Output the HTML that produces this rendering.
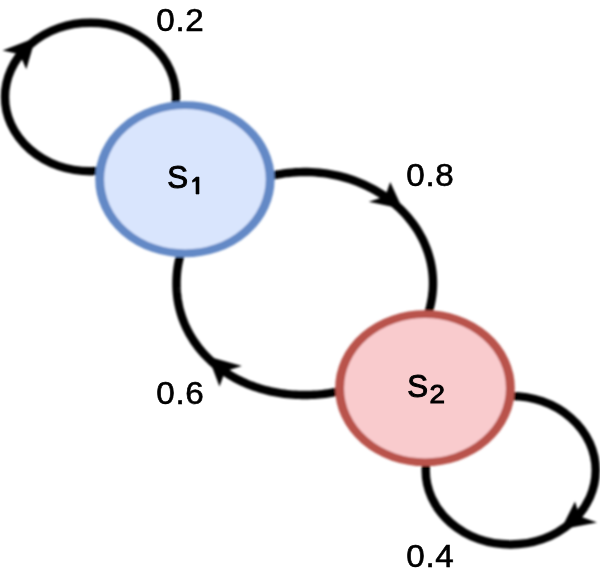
<!DOCTYPE html>
<html><head><meta charset="utf-8">
<style>
html,body{margin:0;padding:0;background:#fff;width:600px;height:574px;overflow:hidden}
svg{display:block}
text{font-family:"Liberation Sans",sans-serif;fill:#000}
</style></head>
<body>
<svg width="600" height="574" viewBox="0 0 600 574">
<defs>
<filter id="b" x="-5%" y="-5%" width="110%" height="110%"><feGaussianBlur stdDeviation="0.8"/></filter>
<filter id="soft" x="-10%" y="-10%" width="120%" height="120%"><feGaussianBlur stdDeviation="0.45"/></filter>
</defs>
<g filter="url(#b)">
<g fill="none" stroke="#000" stroke-width="8.4" transform="scale(1.0 1)">
<ellipse cx="90.500" cy="97" rx="85.500" ry="74.3"/>
<path d="M193.68,227.62 L195.69,224.71 L197.80,221.85 L200.02,219.04 L202.32,216.30 L204.73,213.62 L207.23,211.00 L209.82,208.45 L212.49,205.97 L215.26,203.56 L218.11,201.23 L221.03,198.97 L224.04,196.79 L227.12,194.69 L230.27,192.68 L233.50,190.75 L236.79,188.90 L240.14,187.15 L243.55,185.48 L247.02,183.91 L250.55,182.42 L254.12,181.03 L257.75,179.74 L261.41,178.54 L265.12,177.44 L268.86,176.44 L272.64,175.54 L276.45,174.74 L280.28,174.04 L284.13,173.45 L288.01,172.95 L291.90,172.56 L295.80,172.27 L299.71,172.09 L303.63,172.00 L307.55,172.03 L311.46,172.15 L315.37,172.38 L319.27,172.72 L323.15,173.15 L327.02,173.69 L330.87,174.33 L334.69,175.07 L338.48,175.92 L342.25,176.86 L345.97,177.90 L349.66,179.05 L353.31,180.28 L356.91,181.62 L360.47,183.05 L363.97,184.57 L367.42,186.18 L370.80,187.89 L374.13,189.68 L377.39,191.57 L380.59,193.53 L383.71,195.58 L386.76,197.72 L389.73,199.93 L392.62,202.22 L395.44,204.58 L398.16,207.02 L400.80,209.53 L403.35,212.11 L405.81,214.76 L408.18,217.47 L410.44,220.24 L412.61,223.07 L414.68,225.95 L416.65,228.89 L418.51,231.88 L420.26,234.92 L421.91,238.00 L423.45,241.13 L424.88,244.29 L426.19,247.49 L427.40,250.72 L428.48,253.99 L429.46,257.28 L430.31,260.59 L431.05,263.93 L431.67,267.29 L432.18,270.66 L432.56,274.04 L432.82,277.43 L432.97,280.82 L433.00,284.22 L432.90,287.62 L432.69,291.01 L432.35,294.40 L431.90,297.77 L431.33,301.13 L430.64,304.48 L429.84,307.80 L428.91,311.10 L427.88,314.38 L426.72,317.63 L425.46,320.84 L424.08,324.02 L422.58,327.17 L420.98,330.27 L419.27,333.32 L417.46,336.33 L415.54,339.29 L413.51,342.20 L411.39,345.06 L409.16,347.85 L406.84,350.59 L404.42,353.26 L401.91,355.87 L399.31,358.41 L396.62,360.88 L393.84,363.28 L390.98,365.60 L388.04,367.85 L385.02,370.01 L381.93,372.10 L378.77,374.10 L375.54,376.02 L372.24,377.85 L368.87,379.60"/>
<path d="M370.19,380.40 L367.77,381.57 L365.32,382.69 L362.83,383.77 L360.32,384.80 L357.77,385.78 L355.20,386.71 L352.60,387.60 L349.98,388.43 L347.33,389.22 L344.66,389.96 L341.96,390.65 L339.25,391.29 L336.51,391.88 L333.75,392.42 L330.97,392.91 L328.17,393.35 L325.35,393.73 L322.51,394.07 L319.66,394.35 L316.78,394.59 L313.88,394.77 L310.95,394.90 L307.97,394.97 L304.90,395.00 L301.83,394.97 L298.85,394.90 L295.92,394.77 L293.02,394.59 L290.14,394.35 L287.29,394.07 L284.45,393.73 L281.63,393.35 L278.83,392.91 L276.05,392.42 L273.29,391.88 L270.55,391.29 L267.84,390.65 L265.14,389.96 L262.47,389.22 L259.82,388.43 L257.20,387.60 L254.60,386.71 L252.03,385.78 L249.48,384.80 L246.97,383.77 L244.48,382.69 L242.03,381.57 L239.61,380.40 L237.21,379.19 L234.86,377.93 L232.53,376.63 L230.25,375.28 L228.00,373.89 L225.78,372.46 L223.61,370.99 L221.47,369.47 L219.38,367.92 L217.32,366.32 L215.31,364.69 L213.34,363.01 L211.41,361.30 L209.53,359.55 L207.69,357.77 L205.90,355.95 L204.15,354.09 L202.46,352.20 L200.81,350.28 L199.21,348.33 L197.66,346.34 L196.16,344.32 L194.71,342.28 L193.31,340.20 L191.97,338.10 L190.67,335.96 L189.44,333.81 L188.25,331.62 L187.12,329.41 L186.04,327.18 L185.02,324.92 L184.06,322.65 L183.15,320.35 L182.30,318.03 L181.51,315.69 L180.77,313.33 L180.09,310.95 L179.47,308.55 L178.91,306.14 L178.40,303.71 L177.96,301.26 L177.57,298.79 L177.24,296.31 L176.98,293.81 L176.77,291.29 L176.62,288.75 L176.53,286.17 L176.50,283.50 L176.53,280.83 L176.62,278.25 L176.77,275.71 L176.98,273.19 L177.24,270.69 L177.57,268.21 L177.96,265.74 L178.40,263.29 L178.91,260.86 L179.47,258.45 L180.09,256.05 L180.77,253.67 L181.51,251.31 L182.30,248.97 L183.15,246.65 L184.06,244.35 L185.02,242.08 L186.04,239.82 L187.12,237.59 L188.25,235.38 L189.44,233.19 L190.67,231.04 L191.97,228.90 L193.31,226.80"/>
<ellipse cx="510.700" cy="470.3" rx="85.000" ry="74.2"/>
</g>
<g fill="#000">
<polygon points="35.5,37.7 2.5,50.4 19.7,54.3 26.3,69.2"/>
<polygon points="402.6,209.0 390.2,181.9 385.3,196.2 368.8,201.8"/>
<polygon points="208.2,356.4 241.9,366.1 225.1,371.3 219.5,386.5"/>
<polygon points="560.9,529.4 575.0,501.5 579.7,516.3 597.0,522.4"/>
</g>
<ellipse transform="translate(184.93 179.3) scale(1.155 1)" cx="0" cy="0" rx="73.81" ry="74.1" fill="#d9e5fd" stroke="#6489c6" stroke-width="7.7"/>
<ellipse transform="translate(425.0 388.2) scale(1.155 1)" cx="0" cy="0" rx="73.9" ry="74.05" fill="#f9cbcd" stroke="#b9524b" stroke-width="7.7"/>
</g>
<g filter="url(#soft)" stroke="#000" stroke-width="0.6">
<text x="156.3" y="31" font-size="30.6" letter-spacing="0.6" transform="translate(156.3 0) scale(1.085 1) translate(-156.3 0)">0.2</text>
<text x="406.3" y="186.3" font-size="30.6" letter-spacing="0.6" transform="translate(406.3 0) scale(1.085 1) translate(-406.3 0)">0.8</text>
<text x="156.3" y="403.7" font-size="30.6" letter-spacing="0.6" transform="translate(156.3 0) scale(1.085 1) translate(-156.3 0)">0.6</text>
<text x="406.3" y="567.3" font-size="30.6" letter-spacing="0.6" transform="translate(406.3 0) scale(1.085 1) translate(-406.3 0)">0.4</text>
</g>
<g filter="url(#soft)" stroke="#000" stroke-width="1.0">
<text x="167.2" y="187.7" font-size="31.2" letter-spacing="0" transform="translate(167.2 0) scale(1.0 1) translate(-167.2 0)">S</text>
<polygon points="196.0,177.1 199.0,177.1 199.0,194.0 196.0,194.0 196.0,180.8 192.5,182.2 192.5,180.3 195.2,177.9" fill="#000" stroke-width="0.6"/>
<text x="407.2" y="396.7" font-size="31.2" letter-spacing="0" transform="translate(407.2 0) scale(1.0 1) translate(-407.2 0)">S</text>
<text x="429.5" y="403.5" font-size="25" letter-spacing="0" transform="translate(429.5 0) scale(1.11 1) translate(-429.5 0)">2</text>
</g>
</svg>
</body></html>
